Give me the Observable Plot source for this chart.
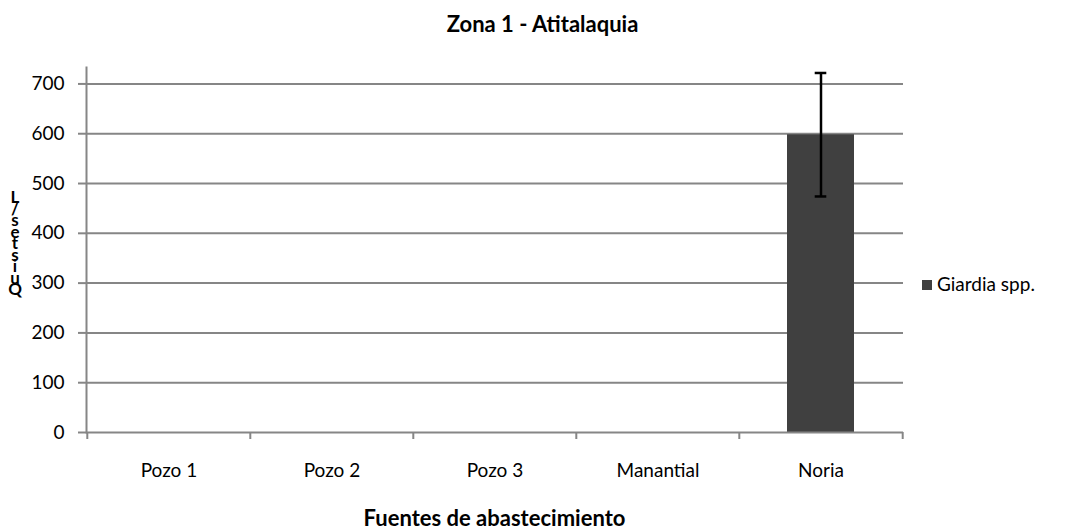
<!DOCTYPE html>
<html>
<head>
<meta charset="utf-8">
<script src="https://cdn.jsdelivr.net/npm/d3@7"></script>
<script src="https://cdn.jsdelivr.net/npm/@observablehq/plot@0.6"></script>
<style>
  html, body { margin: 0; padding: 0; background: #fff; }
  #chart svg { display: block; }
</style>
</head>
<body>
<div id="chart"></div>
<script>
const title = "Zona 1 - Atitalaquia";
const xTitle = "Fuentes de abastecimiento";
const yTitle = "Quistes/L";
const seriesName = "Giardia spp.";
const categories = ["Pozo 1", "Pozo 2", "Pozo 3", "Manantial", "Noria"];
const values = [0, 0, 0, 0, 598];
const errors = [0, 0, 0, 0, 124];
const yTicks = [0, 100, 200, 300, 400, 500, 600, 700];

const data = categories.map((c, i) => ({cat: c, v: values[i], e: errors[i]}));

const W = 1085, H = 532;
const mL = 86, mR = 182, mT = 67, mB = 100;
const bw = (W - mL - mR) / categories.length;
const gray = "#868686";
const barColor = "#404040";
const font = "Lato, 'Open Sans', sans-serif";

const chart = Plot.plot({
  width: W, height: H,
  marginLeft: mL, marginRight: mR, marginTop: mT, marginBottom: mB,
  style: {fontFamily: font, fontSize: "19px", color: "#000", background: "#fff"},
  x: {domain: categories, padding: 0, label: null},
  y: {domain: [0, 733], label: null},
  marks: [
    Plot.gridY(yTicks.filter(t => t > 0), {stroke: gray, strokeOpacity: 1, strokeWidth: 2}),
    Plot.barY(data, {x: "cat", y: "v", fill: barColor, insetLeft: 48, insetRight: 48}),
    Plot.ruleY([0], {stroke: gray, strokeWidth: 2}),
    Plot.frame({anchor: "left", stroke: gray, strokeWidth: 2}),
    Plot.ruleX(categories, {x: d => d, dx: -bw / 2, y1: 0, y2: 0, insetBottom: -7, stroke: gray, strokeWidth: 2}),
    Plot.ruleX(categories.slice(-1), {x: d => d, dx: bw / 2, y1: 0, y2: 0, insetBottom: -7, stroke: gray, strokeWidth: 2}),
    Plot.ruleX(data.filter(d => d.e > 0), {x: "cat", y1: d => d.v - d.e, y2: d => d.v + d.e, stroke: "#000", strokeWidth: 2.5}),
    Plot.tickY(data.filter(d => d.e > 0), {x: "cat", y: d => d.v + d.e, stroke: "#000", strokeWidth: 2.5, insetLeft: bw / 2 - 6, insetRight: bw / 2 - 6}),
    Plot.tickY(data.filter(d => d.e > 0), {x: "cat", y: d => d.v - d.e, stroke: "#000", strokeWidth: 2.5, insetLeft: bw / 2 - 6, insetRight: bw / 2 - 6}),
    Plot.axisY({ticks: yTicks, tickSize: 8, tickPadding: 14, stroke: gray, strokeWidth: 2, strokeOpacity: 1, fontSize: 19, label: null}),
    Plot.axisX({tickSize: 0, tickPadding: 31, fontSize: 19, label: null})
  ]
});

const svg = d3.select(chart);

svg.append("text")
  .attr("x", W / 2).attr("y", 32)
  .attr("text-anchor", "middle")
  .attr("font-family", font).attr("font-weight", "bold").attr("font-size", 22)
  .attr("fill", "#000")
  .text(title);

svg.append("text")
  .attr("x", (mL + W - mR) / 2).attr("y", 526)
  .attr("text-anchor", "middle")
  .attr("font-family", font).attr("font-weight", "bold").attr("font-size", 22)
  .attr("fill", "#000")
  .text(xTitle);

// stacked y-axis title (letters from bottom to top)
const yl = svg.append("text")
  .attr("font-family", font).attr("font-weight", "bold").attr("font-size", 17)
  .attr("fill", "#000").attr("text-anchor", "middle");
Array.from(yTitle).forEach((ch, i) => {
  yl.append("tspan").attr("x", 15).attr("y", 295 - i * 11.5).text(ch);
});

// legend
const lg = svg.append("g").attr("transform", "translate(922,280)");
lg.append("rect").attr("width", 10).attr("height", 10).attr("fill", barColor);
lg.append("text").attr("x", 15).attr("y", 11)
  .attr("text-anchor", "start")
  .attr("font-family", font).attr("font-size", 19).attr("fill", "#000")
  .text(seriesName);

document.getElementById("chart").appendChild(chart);
</script>
</body>
</html>
